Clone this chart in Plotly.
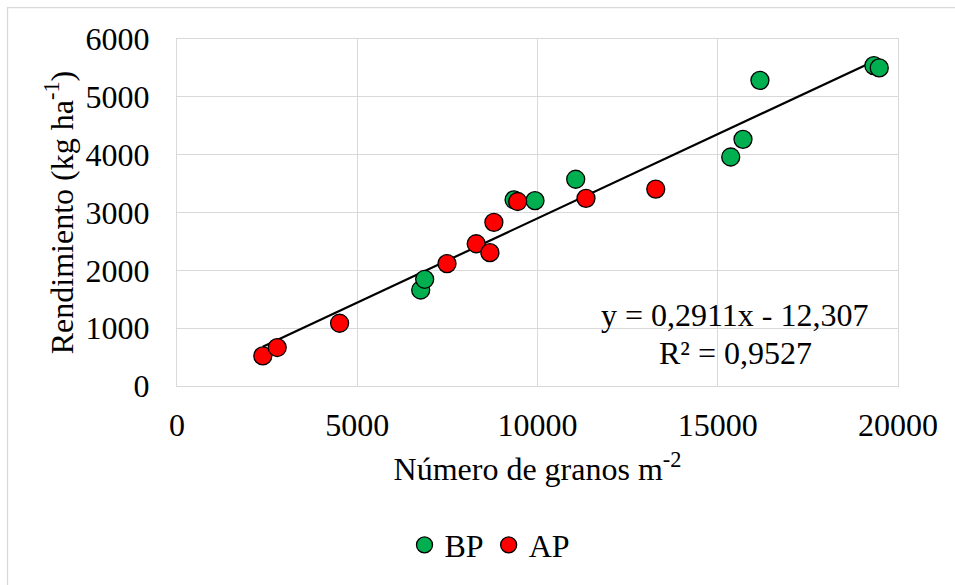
import plotly.graph_objects as go
import numpy as np

# Data
bp_x = [6760, 6870, 9350, 9930, 11060, 15360, 15700, 16170, 19330, 19480]
bp_y = [1660, 1845, 3220, 3205, 3575, 3960, 4265, 5285, 5540, 5500]
ap_x = [2380, 2780, 4510, 7490, 8300, 8680, 8790, 9450, 11345, 13280]
ap_y = [520, 665, 1085, 2115, 2460, 2305, 2830, 3190, 3245, 3405]
slope = 0.2911
intercept = -12.307
r2 = 0.9527

all_x = bp_x + ap_x
x_line = np.array([min(all_x), max(all_x)])
y_line = slope * x_line + intercept

FONT = "Liberation Serif"
FS = 32
W, H = 955, 585
L, R, T, B = 177, 57, 39, 197
pw, ph = W - L - R, H - T - B

def px2paper_x(px):
    return (px - L) / pw

def px2paper_y(py):
    return (H - B - py) / ph

fig = go.Figure()
fig.add_trace(go.Scatter(
    x=x_line, y=y_line, mode="lines",
    line=dict(color="black", width=2.2), showlegend=False, hoverinfo="skip"))
fig.add_trace(go.Scatter(
    x=bp_x, y=bp_y, mode="markers", name="BP",
    marker=dict(color="#00B050", size=18, line=dict(color="black", width=1.3))))
fig.add_trace(go.Scatter(
    x=ap_x, y=ap_y, mode="markers", name="AP",
    marker=dict(color="#FF0000", size=18, line=dict(color="black", width=1.3))))

grid = "#D9D9D9"
fig.update_xaxes(
    range=[0, 20000], dtick=5000, tickformat="d",
    showgrid=True, gridcolor=grid, gridwidth=1.3,
    showline=True, linecolor=grid, linewidth=1.3, mirror=True,
    zeroline=False, ticks="", ticklabelstandoff=10,
    tickfont=dict(family=FONT, size=FS, color="black"),
    title=dict(text="Número de granos m<sup>-2</sup>",
               font=dict(family=FONT, size=FS, color="black"), standoff=16),
)
fig.update_yaxes(
    range=[0, 6000], dtick=1000, tickformat="d",
    showgrid=True, gridcolor=grid, gridwidth=1.3,
    showline=True, linecolor=grid, linewidth=1.3, mirror=True,
    zeroline=False, ticks="", ticklabelstandoff=20,
    tickfont=dict(family=FONT, size=FS, color="black"),
    title=dict(text="Rendimiento (kg ha<sup>-1</sup>)",
               font=dict(family=FONT, size=FS, color="black"), standoff=2),
)

fig.add_annotation(x=15480, y=1220, xref="x", yref="y",
                   text="y = 0,2911x - 12,307", showarrow=False,
                   font=dict(family=FONT, size=FS, color="black"))
fig.add_annotation(x=15480, y=567, xref="x", yref="y",
                   text=f"R² = {str(r2).replace('.', ',')}", showarrow=False,
                   font=dict(family=FONT, size=FS, color="black"))

# outer chart border
fig.add_shape(type="rect", xref="paper", yref="paper",
              x0=px2paper_x(7.5), x1=px2paper_x(965),
              y0=px2paper_y(595), y1=px2paper_y(7.5),
              line=dict(color=grid, width=1.3), layer="below")

fig.update_layout(
    width=W, height=H,
    margin=dict(l=L, r=R, t=T, b=B),
    paper_bgcolor="white", plot_bgcolor="white",
    font=dict(family=FONT, size=FS, color="black"),
    legend=dict(orientation="h", x=px2paper_x(490), y=px2paper_y(548),
                xanchor="center", yanchor="middle",
                font=dict(family=FONT, size=FS, color="black"),
                itemwidth=30, tracegroupgap=0),
)

fig.write_html("out.html")
